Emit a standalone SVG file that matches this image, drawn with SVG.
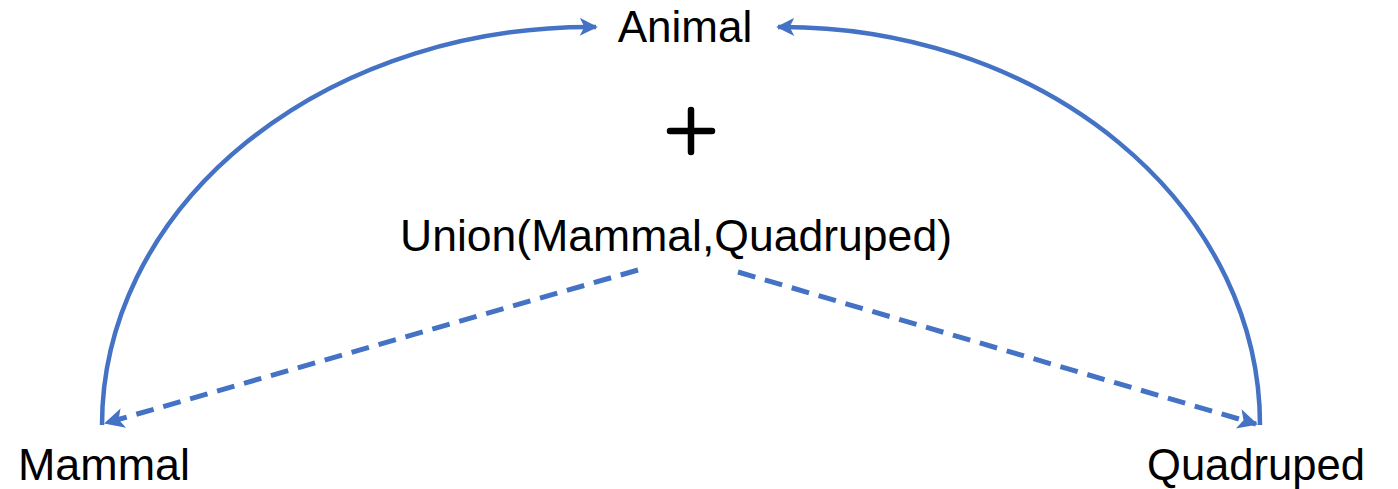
<svg xmlns="http://www.w3.org/2000/svg" width="1398" height="489" viewBox="0 0 1398 489">
  <style>
    .lbl { font-family: "Liberation Sans", Arial, sans-serif; font-size: 44px; fill: #000; }
    .arc { fill: none; stroke: #4472C4; stroke-width: 4.5; }
    .dash { fill: none; stroke: #4472C4; stroke-width: 5; stroke-dasharray: 18 10; }
  </style>
  <defs>
    <marker id="arrow" viewBox="0 0 10 10" refX="9" refY="5" markerWidth="4.6" markerHeight="4" markerUnits="strokeWidth" orient="auto">
      <path d="M0,0 L10,5 L0,10 L2.5,5 Z" fill="#4472C4"/>
    </marker>
  </defs>
  <rect width="1398" height="489" fill="#fff"/>
  <g id="connectors">
    <path class="arc" d="M102,425 A488,398 0 0 1 596,27" marker-end="url(#arrow)"/>
    <path class="arc" d="M1260,425 A478,398 0 0 0 778,27" marker-end="url(#arrow)"/>
    <path class="dash" d="M638,270 L106,423" marker-end="url(#arrow)"/>
    <path class="dash" d="M738,272 L1256,424" marker-end="url(#arrow)"/>
  </g>
  <g id="animal"><text class="lbl" x="685" y="42" text-anchor="middle">Animal</text></g>
  <g id="plus">
    <path d="M691,110 V152 M670,131 H712" stroke="#000" stroke-width="6.5" stroke-linecap="round" fill="none"/>
  </g>
  <g id="union"><text class="lbl" x="400" y="251" textLength="552" lengthAdjust="spacingAndGlyphs">Union(Mammal,Quadruped)</text></g>
  <g id="mammal"><text class="lbl" x="18" y="480" textLength="172" lengthAdjust="spacingAndGlyphs">Mammal</text></g>
  <g id="quadruped"><text class="lbl" x="1147" y="480" textLength="218" lengthAdjust="spacingAndGlyphs">Quadruped</text></g>
</svg>
